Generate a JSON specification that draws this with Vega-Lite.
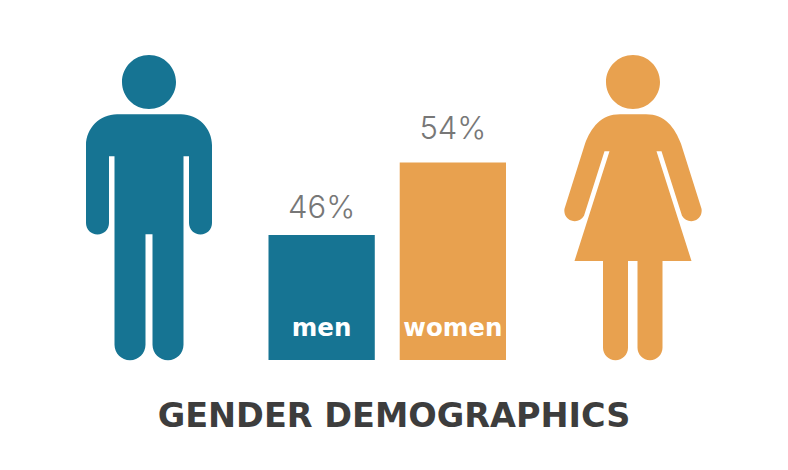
{
"$schema":"https://vega.github.io/schema/vega-lite/v6.json",
"width":788,"height":360,"padding":0,"background":"white",
"autosize":{"type":"pad"},
"config":{"view":{"stroke":null}},
"title":{"text":"GENDER DEMOGRAPHICS","orient":"bottom","anchor":"middle","offset":41,"font":"DejaVu Sans","fontWeight":"bold","fontSize":33.5,"color":"#3d3d3d"},
"data":{"values":[{"gender":"men","pct":46,"label":"46%"},{"gender":"women","pct":54,"label":"54%"}]},
"resolve":{"scale":{"x":"independent"}},
"encoding":{
"y":{"type":"quantitative","scale":{"domain":[32.2,71.93],"zero":false,"nice":false},"axis":null},
"color":{"field":"gender","type":"nominal","scale":{"domain":["men","women"],"range":["#167493","#E8A14F"]},"legend":null}
},
"layer":[
{"mark":{"type":"point","filled":true,"opacity":1,"size":4},
"encoding":{
"x":{"field":"gender","type":"nominal","scale":{"type":"point","domain":["men","women"],"range":[149,633],"padding":0},"axis":null},
"y":{"datum":49,"type":"quantitative"},
"shape":{"field":"gender","type":"nominal","legend":null,"scale":{"domain":["men","women"],"range":[
"M-27,-125.7 a27,27 0 1,0 54,0 a27,27 0 1,0 -54,0 Z M-32,-93.5 H32 A31,31 0 0 1 63,-62.5 V15.2 A11.5,11.5 0 0 1 40,15.2 V-51.5 H34.5 V137 A15.5,15.5 0 0 1 3.5,137 V26.5 H-3.5 V137 A15.5,15.5 0 0 1 -34.5,137 V-51.5 H-40 V15.2 A11.5,11.5 0 0 1 -63,15.2 V-62.5 A31,31 0 0 1 -32,-93.5 Z",
"M-27,-125.7 a27,27 0 1,0 54,0 a27,27 0 1,0 -54,0 Z M-13,-93.5 H13 C32,-93.5 42,-80 48,-64 L68.5,1 A10.5,10.5 0 0 1 49,8 L28.5,-56.5 H23.5 L58.5,53.2 H29.5 V140 A12.5,12.5 0 0 1 4.5,140 V53.2 H-5 V140 A12.5,12.5 0 0 1 -30,140 V53.2 H-58.5 L-23.5,-56.5 H-28.5 L-49,8 A10.5,10.5 0 0 1 -68.5,1 L-48,-64 C-42,-80 -32,-93.5 -13,-93.5 Z"
]}}
}},
{"encoding":{"x":{"field":"gender","type":"nominal","scale":{"type":"band","domain":["men","women"],"range":[268.5,506],"paddingInner":0.19,"paddingOuter":0},"axis":null}},
"layer":[
{"mark":{"type":"bar"},"encoding":{"y":{"field":"pct","type":"quantitative"},"y2":{"datum":32.2}}},
{"transform":[{"filter":"datum.gender === 'men'"}],"mark":{"type":"text","baseline":"alphabetic","dy":-17,"font":"Inter","fontWeight":300,"fontSize":31},
"encoding":{"y":{"field":"pct","type":"quantitative"},"text":{"field":"label","type":"nominal"},"color":{"value":"#777777"}}},
{"transform":[{"filter":"datum.gender === 'women'"}],"mark":{"type":"text","baseline":"alphabetic","dy":-23,"font":"Inter","fontWeight":300,"fontSize":31},
"encoding":{"y":{"field":"pct","type":"quantitative"},"text":{"field":"label","type":"nominal"},"color":{"value":"#777777"}}},
{"mark":{"type":"text","baseline":"alphabetic","font":"DejaVu Sans","fontWeight":"bold","fontSize":24.5},
"encoding":{"y":{"datum":34.9,"type":"quantitative"},"text":{"field":"gender","type":"nominal"},"color":{"value":"white"}}}
]}
]
}
